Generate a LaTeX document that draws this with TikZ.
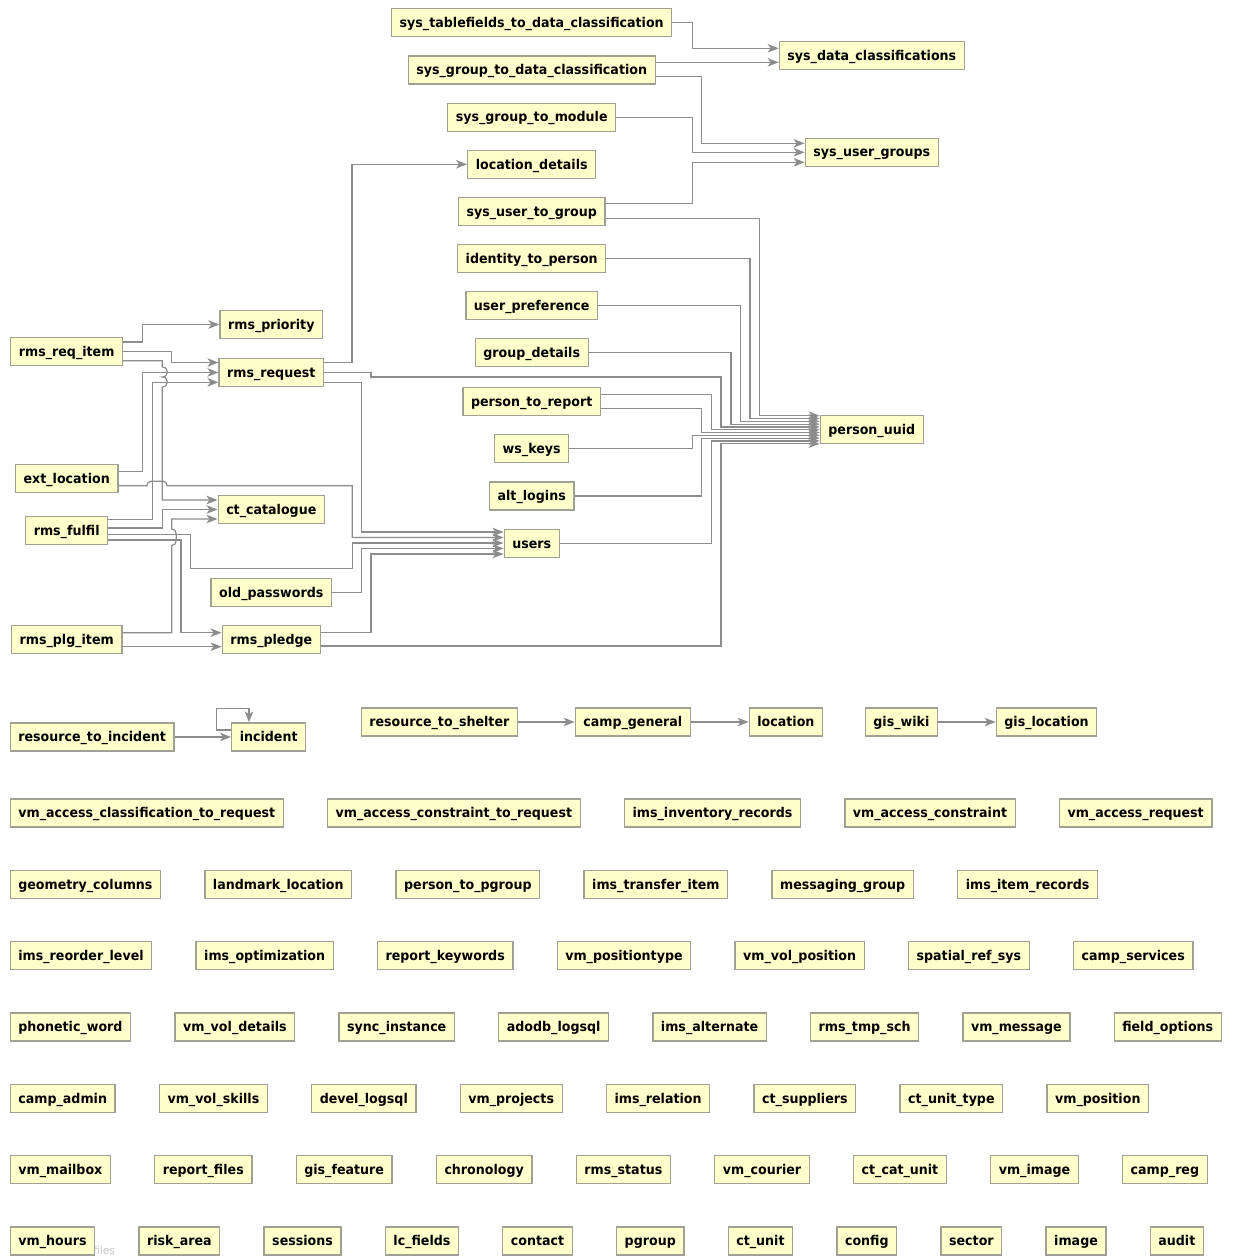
\documentclass[tikz,border=0pt]{standalone}
\usepackage{fontspec}
\setmainfont{DejaVu Sans}
\newfontfamily\tblfont{DejaVu Sans}[FakeStretch=0.94]
\usetikzlibrary{arrows.meta}
\definecolor{boxfill}{RGB}{255,255,204}
\definecolor{boxline}{RGB}{160,160,148}
\definecolor{edgecol}{RGB}{140,140,140}
\newcommand\rowfirst[3]{\node[tbl,anchor=west] (#1) at (9.6,#2) {#3};}
\newcommand\rownext[3]{\node[tbl,anchor=west] (#1) at ([xshift=43pt]#2.east) {#3};}
\begin{document}
\begin{tikzpicture}[x=1pt,y=-1pt,
  tbl/.style={draw=boxline, fill=boxfill, line width=1.3pt, minimum height=28pt,
    inner xsep=8.1pt, inner ysep=0pt, text height=12.2pt, text depth=2.6pt,
    font=\tblfont\bfseries\fontsize{13.45pt}{15pt}\selectfont, text=black},
  conn/.style={draw=edgecol, line width=1.2pt, -{Stealth[length=11pt,width=8.5pt,inset=3pt]}},
]
\useasboundingbox (0,0) rectangle (1232,1257);
\fill[white] (0,0) rectangle (1232,1257);

% centre column
\node[tbl] (tablefields) at (531.7,22.8) {sys\_tablefields\_to\_data\_classification};
\node[tbl] (sysgroupdata) at (531.7,70) {sys\_group\_to\_data\_classification};
\node[tbl] (sysgroupmodule) at (531.7,117.2) {sys\_group\_to\_module};
\node[tbl] (locationdetails) at (531.7,164.3) {location\_details};
\node[tbl] (sysusertogroup) at (531.7,211.3) {sys\_user\_to\_group};
\node[tbl] (identity) at (531.7,258.5) {identity\_to\_person};
\node[tbl] (userpref) at (531.7,305.7) {user\_preference};
\node[tbl] (groupdetails) at (531.7,352.5) {group\_details};
\node[tbl] (persontoreport) at (531.7,401.5) {person\_to\_report};
\node[tbl] (wskeys) at (531.7,448.8) {ws\_keys};
\node[tbl] (altlogins) at (531.7,496) {alt\_logins};
\node[tbl] (users) at (531.7,543.3) {users};
% right column
\node[tbl] (sysdata) at (871.8,55.5) {sys\_data\_classifications};
\node[tbl] (sysusergroups) at (871.8,152.2) {sys\_user\_groups};
\node[tbl] (personuuid) at (871.8,429.2) {person\_uuid};
% left columns
\node[tbl] (rmsreqitem) at (66.7,351.5) {rms\_req\_item};
\node[tbl] (extlocation) at (66.7,478.5) {ext\_location};
\node[tbl] (rmsfulfil) at (66.7,530.8) {rms\_fulfil};
\node[tbl] (rmsplgitem) at (66.7,639.5) {rms\_plg\_item};
\node[tbl] (rmspriority) at (271.3,324.5) {rms\_priority};
\node[tbl] (rmsrequest) at (271.3,372.8) {rms\_request};
\node[tbl] (ctcatalogue) at (271.3,509.5) {ct\_catalogue};
\node[tbl] (oldpasswords) at (271.3,592.2) {old\_passwords};
\node[tbl] (rmspledge) at (271.3,639.3) {rms\_pledge};

% top connectors
\draw[conn] (tablefields.east) -| (692.7,48.3) -- (sysdata.west |- 0,48.3);
\draw[conn] (sysgroupdata.east |- 0,62.3) -- (sysdata.west |- 0,62.3);
\draw[conn] (sysgroupdata.east |- 0,76.3) -| (701.7,143.3) -- (sysusergroups.west |- 0,143.3);
\draw[conn] (sysgroupmodule.east) -| (692.7,152.3) -- (sysusergroups.west |- 0,152.3);
\draw[conn] (sysusertogroup.east |- 0,203.8) -| (692.7,162.3) -- (sysusergroups.west |- 0,162.3);
% to person_uuid
\draw[conn] (sysusertogroup.east |- 0,218.5) -| (759.3,415.7) -- (personuuid.west |- 0,415.7);
\draw[conn] (identity.east) -| (750,418.5) -- (personuuid.west |- 0,418.5);
\draw[conn] (userpref.east) -| (740.3,421.3) -- (personuuid.west |- 0,421.3);
\draw[conn] (groupdetails.east) -| (731,424.1) -- (personuuid.west |- 0,424.1);
\draw[conn] (rmsrequest.east |- 0,372.7) -- (371,372.7) -- (371,377) -- (721,377) -- (721,426.9) -- (personuuid.west |- 0,426.9);
\draw[conn] (persontoreport.east |- 0,394.5) -| (711.3,429.7) -- (personuuid.west |- 0,429.7);
\draw[conn] (persontoreport.east |- 0,408.3) -| (701.7,432.5) -- (personuuid.west |- 0,432.5);
\draw[conn] (wskeys.east) -| (692.3,435.3) -- (personuuid.west |- 0,435.3);
\draw[conn] (altlogins.east) -| (701.7,438.1) -- (personuuid.west |- 0,438.1);
\draw[conn] (users.east) -| (711.3,440.9) -- (personuuid.west |- 0,440.9);
\draw[conn] (rmspledge.east |- 0,646) -| (721,443.7) -- (personuuid.west |- 0,443.7);
% rms_request outgoing
\draw[conn] (rmsrequest.east |- 0,362.7) -| (352,164.3) -- (locationdetails.west |- 0,164.3);
\draw[conn] (rmsrequest.east |- 0,382.3) -| (361.7,532) -- (users.west |- 0,532);
% into users
\draw[conn] (extlocation.east |- 0,485.7) -- (147,485.7)
   .. controls (147,483.2) and (148.5,481.2) .. (151,481.2) -- (163,481.2)
   .. controls (165.5,481.2) and (167,483.2) .. (167,485.7)
   -- (352.3,485.7) -- (352.3,537.5) -- (users.west |- 0,537.5);
\draw[conn] (rmsfulfil.east |- 0,534.3) -| (190.7,568.3) -| (352.3,543) -- (users.west |- 0,543);
\draw[conn] (oldpasswords.east) -| (361.7,548.5) -- (users.west |- 0,548.5);
\draw[conn] (rmspledge.east |- 0,632.7) -| (371,554) -- (users.west |- 0,554);
% rms_req_item
\draw[conn] (rmsreqitem.east |- 0,342) -| (142.7,324.5) -- (rmspriority.west |- 0,324.5);
\draw[conn] (rmsreqitem.east) -| (171.7,362.5) -- (rmsrequest.west |- 0,362.5);
\draw[conn] (rmsreqitem.east |- 0,360.7) -- (162.3,360.7) -- (162.3,367)
   .. controls (169,367) and (169,377) .. (162.3,377)
   .. controls (169,377) and (169,387) .. (162.3,387)
   -- (162.3,500) -- (ctcatalogue.west |- 0,500);
% ext_location, rms_fulfil, rms_plg_item
\draw[conn] (extlocation.east |- 0,471.7) -| (142.7,372.5) -- (rmsrequest.west |- 0,372.5);
\draw[conn] (rmsfulfil.east |- 0,519.3) -| (152.7,382.3) -- (rmsrequest.west |- 0,382.3);
\draw[conn] (rmsfulfil.east |- 0,528) -| (162.3,509.5) -- (ctcatalogue.west |- 0,509.5);
\draw[conn] (rmsfulfil.east |- 0,540) -| (181,632.7) -- (rmspledge.west |- 0,632.7);
\draw[conn] (rmsplgitem.east |- 0,632.7) -- (171.7,632.7) -- (171.7,545.5)
   .. controls (174.5,545.5) and (176.2,543.5) .. (176.2,540.5) -- (176.2,534)
   .. controls (176.2,531) and (174.5,529) .. (171.7,529)
   -- (171.7,519) -- (ctcatalogue.west |- 0,519);
\draw[conn] (rmsplgitem.east |- 0,646.7) -- (rmspledge.west |- 0,646.7);

% middle band
\node[tbl,anchor=west] (rti) at (9.6,737) {resource\_to\_incident};
\node[tbl,anchor=west] (incident) at (231,737) {incident};
\node[tbl,anchor=west] (rts) at (360.6,722) {resource\_to\_shelter};
\node[tbl,anchor=west] (campgeneral) at (574.6,722) {camp\_general};
\node[tbl,anchor=west] (location) at (748.6,722) {location};
\node[tbl,anchor=west] (giswiki) at (864.6,722) {gis\_wiki};
\node[tbl,anchor=west] (gislocation) at (995.6,722) {gis\_location};
\draw[conn] (rti.east) -- (incident.west);
\draw[conn] (incident.west |- 0,730) -- (216.7,730) -- (216.7,708.5) -- (249,708.5) -- (249,0 |- incident.north);
\draw[conn] (rts.east) -- (campgeneral.west);
\draw[conn] (campgeneral.east) -- (location.west);
\draw[conn] (giswiki.east) -- (gislocation.west);

% grid of unconnected tables
\rowfirst{a1}{813}{vm\_access\_classification\_to\_request}
\rownext{a2}{a1}{vm\_access\_constraint\_to\_request}
\rownext{a3}{a2}{ims\_inventory\_records}
\rownext{a4}{a3}{vm\_access\_constraint}
\rownext{a5}{a4}{vm\_access\_request}

\rowfirst{b1}{884.3}{geometry\_columns}
\rownext{b2}{b1}{landmark\_location}
\rownext{b3}{b2}{person\_to\_pgroup}
\rownext{b4}{b3}{ims\_transfer\_item}
\rownext{b5}{b4}{messaging\_group}
\rownext{b6}{b5}{ims\_item\_records}

\rowfirst{c1}{955.7}{ims\_reorder\_level}
\rownext{c2}{c1}{ims\_optimization}
\rownext{c3}{c2}{report\_keywords}
\rownext{c4}{c3}{vm\_positiontype}
\rownext{c5}{c4}{vm\_vol\_position}
\rownext{c6}{c5}{spatial\_ref\_sys}
\rownext{c7}{c6}{camp\_services}

\rowfirst{d1}{1027}{phonetic\_word}
\rownext{d2}{d1}{vm\_vol\_details}
\rownext{d3}{d2}{sync\_instance}
\rownext{d4}{d3}{adodb\_logsql}
\rownext{d5}{d4}{ims\_alternate}
\rownext{d6}{d5}{rms\_tmp\_sch}
\rownext{d7}{d6}{vm\_message}
\rownext{d8}{d7}{field\_options}

\rowfirst{e1}{1098.3}{camp\_admin}
\rownext{e2}{e1}{vm\_vol\_skills}
\rownext{e3}{e2}{devel\_logsql}
\rownext{e4}{e3}{vm\_projects}
\rownext{e5}{e4}{ims\_relation}
\rownext{e6}{e5}{ct\_suppliers}
\rownext{e7}{e6}{ct\_unit\_type}
\rownext{e8}{e7}{vm\_position}

\rowfirst{f1}{1169.7}{vm\_mailbox}
\rownext{f2}{f1}{report\_files}
\rownext{f3}{f2}{gis\_feature}
\rownext{f4}{f3}{chronology}
\rownext{f5}{f4}{rms\_status}
\rownext{f6}{f5}{vm\_courier}
\rownext{f7}{f6}{ct\_cat\_unit}
\rownext{f8}{f7}{vm\_image}
\rownext{f9}{f8}{camp\_reg}

\node[anchor=base west, text=black!22, font=\fontsize{10.8pt}{12pt}\selectfont, inner sep=0pt] (wm) at (92.8,1254) {files};
\rowfirst{g1}{1241}{vm\_hours}
\rownext{g2}{g1}{risk\_area}
\rownext{g3}{g2}{sessions}
\rownext{g4}{g3}{lc\_fields}
\rownext{g5}{g4}{contact}
\rownext{g6}{g5}{pgroup}
\rownext{g7}{g6}{ct\_unit}
\rownext{g8}{g7}{config}
\rownext{g9}{g8}{sector}
\rownext{g10}{g9}{image}
\rownext{g11}{g10}{audit}
\end{tikzpicture}
\end{document}
